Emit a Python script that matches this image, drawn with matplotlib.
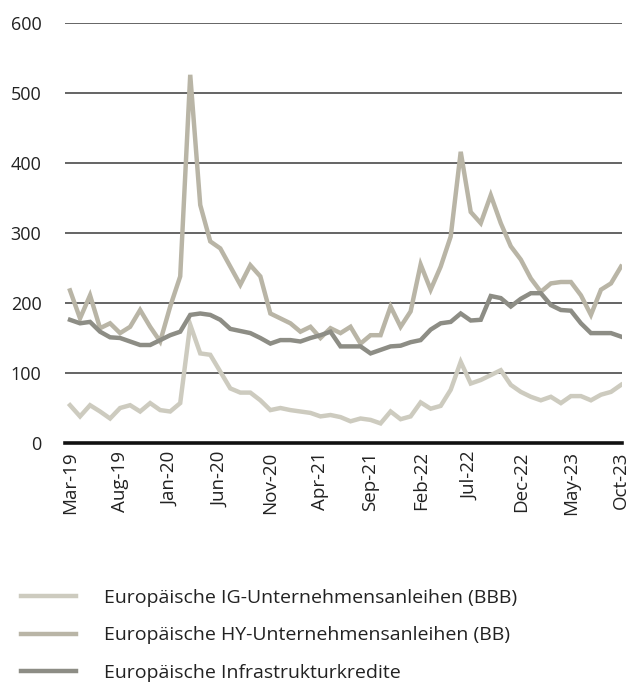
import matplotlib
matplotlib.use("Agg")
import matplotlib.pyplot as plt
import numpy as np

months = ["Mar-19","Apr-19","May-19","Jun-19","Jul-19","Aug-19","Sep-19","Oct-19","Nov-19","Dec-19",
          "Jan-20","Feb-20","Mar-20","Apr-20","May-20","Jun-20","Jul-20","Aug-20","Sep-20","Oct-20",
          "Nov-20","Dec-20","Jan-21","Feb-21","Mar-21","Apr-21","May-21","Jun-21","Jul-21","Aug-21",
          "Sep-21","Oct-21","Nov-21","Dec-21","Jan-22","Feb-22","Mar-22","Apr-22","May-22","Jun-22",
          "Jul-22","Aug-22","Sep-22","Oct-22","Nov-22","Dec-22","Jan-23","Feb-23","Mar-23","Apr-23",
          "May-23","Jun-23","Jul-23","Aug-23","Sep-23","Oct-23"]

ig_bbb = [54, 38, 54, 45, 35, 50, 54, 45, 57, 47,
          45, 57, 169, 128, 126, 102, 78, 72, 72, 61,
          47, 50, 47, 45, 43, 38, 40, 37, 31, 35,
          33, 28, 45, 34, 38, 58, 49, 53, 76, 116,
          85, 90, 97, 104, 83, 73, 66, 61, 66, 57,
          67, 67, 61, 69, 73, 83]

hy_bb = [218, 178, 211, 164, 171, 157, 166, 190, 166, 145,
         195, 238, 526, 340, 288, 278, 252, 226, 254, 238,
         185, 178, 171, 159, 166, 150, 164, 157, 166, 142,
         154, 154, 195, 166, 188, 255, 219, 252, 295, 416,
         330, 314, 354, 314, 281, 262, 235, 216, 228, 230,
         230, 211, 183, 219, 228, 252]

infra = [176, 171, 173, 159, 151, 150, 145, 140, 140, 147,
         154, 159, 183, 185, 183, 176, 163, 160, 157, 150,
         142, 147, 147, 145, 150, 154, 159, 138, 138, 138,
         128, 133, 138, 139, 144, 147, 162, 171, 173, 185,
         175, 176, 210, 207, 195, 206, 214, 214, 197, 190,
         189, 171, 157, 157, 157, 152]

series_labels = ["Europäische IG-Unternehmensanleihen (BBB)",
                 "Europäische HY-Unternehmensanleihen (BB)",
                 "Europäische Infrastrukturkredite"]
colors = ["#cdcbbf", "#b9b5a6", "#8d8d85"]

y_ticks = [0, 100, 200, 300, 400, 500, 600]

plt.rcParams['font.family'] = ['Open Sans', 'DejaVu Sans']

fig = plt.figure(figsize=(6.3, 6.84), dpi=100)
ax = fig.add_axes([65/630, 1 - 443/684, (622-65)/630, (443-23)/684])

x = np.arange(len(months))
for vals, lab, col in zip([ig_bbb, hy_bb, infra], series_labels, colors):
    ax.plot(x, vals, color=col, lw=3.2, label=lab, solid_joinstyle='miter', zorder=3)

ax.set_ylim(0, 600)
ax.set_xlim(-0.5, 55.1)
ax.set_yticks(y_ticks)
ax.set_yticklabels([str(v) for v in y_ticks], fontsize=13)
ax.yaxis.grid(True, color='#3a3a3a', lw=1.1)
ax.set_axisbelow(True)
ax.tick_params(axis='y', length=0, pad=17, labelcolor='#222222')

tick_idx = list(range(0, len(months), 5))
ax.set_xticks(tick_idx)
ax.set_xticklabels([months[i] for i in tick_idx], rotation=90, fontsize=13.5, color='#222222')
ax.tick_params(axis='x', length=0, pad=6)

for s in ['top', 'right', 'left']:
    ax.spines[s].set_visible(False)
ax.spines['bottom'].set_linewidth(2.6)
ax.spines['bottom'].set_color('#111111')
ax.spines['bottom'].set_zorder(4)

leg = fig.legend(loc='upper left', bbox_to_anchor=(22/630 - 0.002, 1 - 589/684),
                 frameon=False, fontsize=14, handlelength=2.85, handletextpad=1.45,
                 labelspacing=1.0, borderaxespad=0, borderpad=0)
for t in leg.get_texts():
    t.set_color('#222222')

fig.savefig("out.png", dpi=100)
